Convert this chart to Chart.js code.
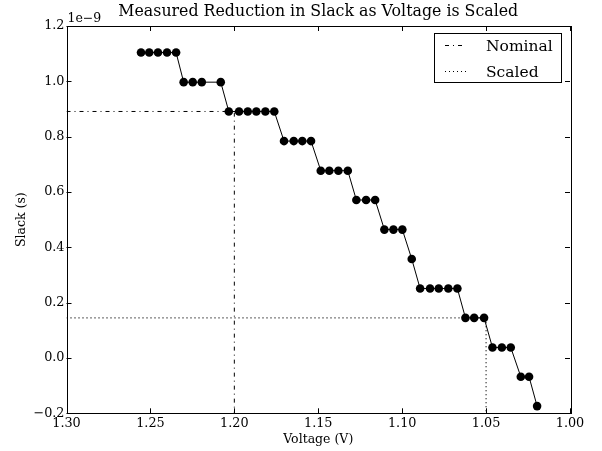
<!DOCTYPE html>
<html>
<head>
<meta charset="utf-8">
<script src="https://cdn.jsdelivr.net/npm/chart.js@4.4.1/dist/chart.umd.min.js"></script>
<style>
  html, body { margin: 0; padding: 0; background: #fff; }
  #wrap { width: 602px; height: 451px; position: relative; }
</style>
</head>
<body>
<div id="wrap"><canvas id="slackChart"></canvas></div>
<script>
// measured points (voltage in V, slack in units of 1e-9 s)
const voltage = [
  1.2556, 1.2507, 1.2455, 1.2401, 1.2347,
  1.2302, 1.2248, 1.2194, 1.2081,
  1.2033, 1.1972, 1.1920, 1.1869, 1.1815, 1.1762,
  1.1704, 1.1646, 1.1595, 1.1543,
  1.1485, 1.1434, 1.1380, 1.1324,
  1.1273, 1.1215, 1.1161,
  1.1106, 1.1052, 1.0999,
  1.0943,
  1.0893, 1.0834, 1.0782, 1.0725, 1.0671,
  1.0623, 1.0571, 1.0512,
  1.0462, 1.0406, 1.0353,
  1.0293, 1.0244,
  1.0196
];
const slack = [
  1.104, 1.104, 1.104, 1.104, 1.104,
  0.997, 0.997, 0.997, 0.997,
  0.891, 0.891, 0.891, 0.891, 0.891, 0.891,
  0.784, 0.784, 0.784, 0.784,
  0.677, 0.677, 0.677, 0.677,
  0.571, 0.571, 0.571,
  0.464, 0.464, 0.464,
  0.358,
  0.251, 0.251, 0.251, 0.251, 0.251,
  0.145, 0.145, 0.145,
  0.038, 0.038, 0.038,
  -0.068, -0.068,
  -0.174
];
const xTicks = [1.30, 1.25, 1.20, 1.15, 1.10, 1.05, 1.00];
const yTicks = [-0.2, 0.0, 0.2, 0.4, 0.6, 0.8, 1.0, 1.2];
const nominalVoltage = 1.20;
const nominalSlack = 0.891;
const scaledVoltage = 1.05;
const scaledSlack = 0.145;
const chartTitle = 'Measured Reduction in Slack as Voltage is Scaled';

const FONT = 'DejaVu Serif';
Chart.defaults.font.family = FONT;
Chart.defaults.color = '#000';

const points = voltage.map((v, i) => ({ x: v, y: slack[i] }));

// inward ticks on all four sides, frame, title over the axes, offset text and legend
const decor = {
  id: 'decor',
  afterDraw(chart) {
    const ctx = chart.ctx;
    const a = chart.chartArea;
    const xs = chart.scales.x, ys = chart.scales.y;
    ctx.save();
    ctx.strokeStyle = '#000';
    ctx.lineWidth = 1;
    ctx.setLineDash([]);
    ctx.beginPath();
    xTicks.forEach(t => {
      const px = Math.round(xs.getPixelForValue(t)) + 0.5;
      ctx.moveTo(px, a.bottom); ctx.lineTo(px, a.bottom - 5);
      ctx.moveTo(px, a.top); ctx.lineTo(px, a.top + 5);
    });
    yTicks.forEach(t => {
      const py = Math.round(ys.getPixelForValue(t)) + 0.5;
      ctx.moveTo(a.left, py); ctx.lineTo(a.left + 5, py);
      ctx.moveTo(a.right, py); ctx.lineTo(a.right - 5, py);
    });
    ctx.stroke();
    ctx.strokeRect(Math.round(a.left) + 0.5, Math.round(a.top) + 0.5,
      Math.round(a.right - a.left), Math.round(a.bottom - a.top));

    // title, centred over the plot area
    ctx.fillStyle = '#000';
    ctx.font = '15.8px "' + FONT + '"';
    ctx.textAlign = 'center';
    ctx.textBaseline = 'alphabetic';
    ctx.fillText(chartTitle, (a.left + a.right) / 2, 16);

    // offset text
    ctx.font = '12.5px "' + FONT + '"';
    ctx.textAlign = 'left';
    ctx.fillText('1e\u22129', a.left + 1, a.top - 4.5);

    // legend
    const bx = a.right - 136, by = a.top + 7, bw = 127, bh = 49;
    ctx.fillStyle = '#fff';
    ctx.fillRect(bx, by, bw, bh);
    ctx.strokeRect(Math.round(bx) + 0.5, Math.round(by) + 0.5, bw, bh);
    const items = chart.data.datasets.filter(d => d.label);
    items.forEach((d, i) => {
      const y = Math.round(by + 12 + i * 25.7) + 0.5;
      ctx.beginPath();
      ctx.setLineDash(d.borderDash || []);
      ctx.moveTo(bx + 11, y);
      ctx.lineTo(bx + 32, y);
      ctx.stroke();
      ctx.setLineDash([]);
      ctx.fillStyle = '#000';
      ctx.font = '15.5px "' + FONT + '"';
      ctx.textBaseline = 'middle';
      ctx.fillText(d.label, bx + 52, y + 1);
    });
    ctx.restore();
  }
};

new Chart(document.getElementById('slackChart'), {
  type: 'scatter',
  data: {
    datasets: [
      {
        data: points,
        showLine: true,
        borderColor: '#000',
        borderWidth: 1,
        backgroundColor: '#000',
        pointRadius: 4.3,
        pointBorderWidth: 0
      },
      {
        label: 'Nominal',
        data: [
          { x: 1.30, y: nominalSlack },
          { x: nominalVoltage, y: nominalSlack },
          { x: nominalVoltage, y: -0.2 }
        ],
        showLine: true,
        borderColor: '#000',
        borderWidth: 1,
        borderDash: [4, 4, 1, 4],
        backgroundColor: 'transparent',
        pointRadius: 0
      },
      {
        label: 'Scaled',
        data: [
          { x: 1.30, y: scaledSlack },
          { x: scaledVoltage, y: scaledSlack },
          { x: scaledVoltage, y: -0.2 }
        ],
        showLine: true,
        borderColor: '#000',
        borderWidth: 1.2,
        borderDash: [1, 3],
        backgroundColor: 'transparent',
        pointRadius: 0
      }
    ]
  },
  options: {
    responsive: true,
    maintainAspectRatio: false,
    animation: false,
    layout: { padding: { left: 0, right: 32, top: 26, bottom: 0 } },
    plugins: {
      legend: { display: false },
      tooltip: { enabled: false },
      title: { display: false }
    },
    scales: {
      x: {
        type: 'linear',
        reverse: true,
        min: 1.0,
        max: 1.3,
        afterBuildTicks: s => { s.ticks = xTicks.map(v => ({ value: v })); },
        afterFit: s => { s.height = 37.7; },
        grid: { display: false, drawTicks: false },
        border: { display: false },
        ticks: {
          padding: 3,
          font: { family: FONT, size: 12.8 },
          color: '#000',
          maxRotation: 0,
          autoSkip: false,
          callback: v => Number(v).toFixed(2)
        },
        title: {
          display: true,
          text: 'Voltage (V)',
          font: { family: FONT, size: 12.5 },
          color: '#000',
          padding: { top: 0, bottom: 3.5 }
        }
      },
      y: {
        type: 'linear',
        min: -0.2,
        max: 1.2,
        afterBuildTicks: s => { s.ticks = yTicks.map(v => ({ value: v })); },
        afterFit: s => { s.width = 66.5; },
        grid: { display: false, drawTicks: false },
        border: { display: false },
        ticks: {
          padding: 2,
          font: { family: FONT, size: 12.8 },
          color: '#000',
          autoSkip: false,
          callback: v => Number(v).toFixed(1).replace('-', '\u2212')
        },
        title: {
          display: true,
          text: 'Slack (s)',
          font: { family: FONT, size: 12.5 },
          color: '#000',
          padding: { top: 14, bottom: 0 }
        }
      }
    }
  },
  plugins: [decor]
});
</script>
</body>
</html>
